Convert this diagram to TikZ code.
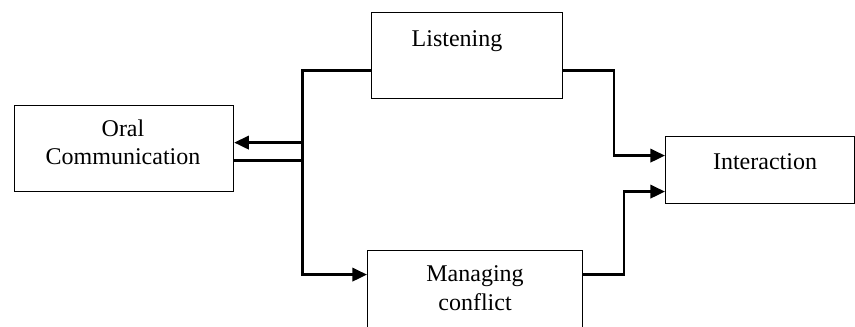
\documentclass[tikz,border=0pt]{standalone}
\usepackage{fontspec}
\setmainfont{Liberation Serif}
\usetikzlibrary{arrows.meta,calc}

\begin{document}
\begin{tikzpicture}[x=0.75pt,y=-0.75pt]
    \tikzset{box/.style = {shape=rectangle,draw,line width=0.9pt,anchor=north west,inner sep=0pt}}
    \tikzset{txt/.style = {align=center,inner sep=0pt,font=\fontsize{18}{21}\selectfont}}
    \tikzset{edge/.style = {line width=2pt,-{Triangle[length=11pt,width=10pt]}}}
    \clip (0,0) rectangle (855,327);
    % vertices
    \node[box,minimum width=164.25pt,minimum height=64.5pt] (oral) at (14,105) {};
    \node[box,minimum width=143.25pt,minimum height=64.5pt] (listen) at (371,12) {};
    \node[box,minimum width=141.75pt,minimum height=50.25pt] (inter) at (665,136) {};
    \node[box,minimum width=161.25pt,minimum height=75pt] (manage) at (367,250) {};
    % texts
    \node[txt,anchor=base] (oraltxt) at (123,165) {Oral\\Communication};
    \node[txt,anchor=base] (listentxt) at (457,47) {Listening};
    \node[txt,anchor=base] (intertxt) at (765,170) {Interaction};
    \node[txt,anchor=base] (managetxt) at (475,310) {Managing\\conflict};
    %edges
    \draw[edge] ($(listen.west)+(0,15)$) -| ($(oral.east)!0.5!(listen.west)$)
        |- ($(oral.east)+(0,-6)$);
    \draw[edge] ($(oral.east)+(0,12)$) -| ($(oral.east)!0.5!(listen.west)$)
        |- ($(manage.west)+(0,-26)$);
    \draw[edge] ($(listen.east)+(0,15)$) -| ($(listen.east)!0.5!(inter.west)$)
        |- ($(inter.west)+(0,-14.5)$);
    \draw[edge] ($(manage.east)+(0,-26)$) -| ($(manage.east)!0.5!(inter.west)$)
        |- ($(inter.west)+(0,21.5)$);
\end{tikzpicture}
\end{document}
